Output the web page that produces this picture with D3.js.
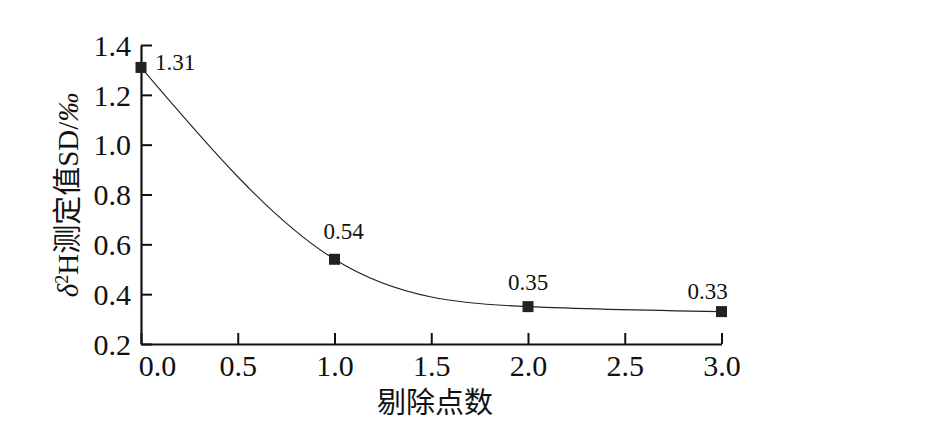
<!DOCTYPE html>
<html>
<head>
<meta charset="utf-8">
<script src="https://cdn.jsdelivr.net/npm/d3@7"></script>
<style>
  html, body { margin: 0; padding: 0; background: #fff; }
  svg { display: block; }
  text { font-family: "Liberation Serif", "DejaVu Serif", serif; fill: #111; }
  .cjk { font-family: "Liberation Serif", "Noto Sans CJK SC", serif; }
</style>
</head>
<body>
<svg id="chart" width="946" height="428"></svg>
<script>
// Data
const removedPoints = [0, 1, 2, 3];
const sdValues = [1.31, 0.54, 0.35, 0.33];
const valueLabels = ["1.31", "0.54", "0.35", "0.33"];
const xTicks = [0.0, 0.5, 1.0, 1.5, 2.0, 2.5, 3.0];
const yTicks = [0.2, 0.4, 0.6, 0.8, 1.0, 1.2, 1.4];
const xTitle = "剔除点数";

// Label placement (pixel offsets from each point)
const labelOffsets = [[14, 3, "start"], [9, -20, "middle"], [0, -17, "middle"], [-14, -13, "middle"]];

const svg = d3.select("#chart");
const x = d3.scaleLinear().domain([0, 3]).range([141, 721.5]);
const y = d3.scaleLinear().domain([0.2, 1.4]).range([344, 45]);

const ink = "#111";
const serif = '"Liberation Serif", "DejaVu Serif", serif';

// axes
const xAxis = svg.append("g").attr("transform", `translate(0,${y(0.2)})`)
  .call(d3.axisBottom(x).tickValues(xTicks).tickFormat(d3.format(".1f")).tickSizeInner(-11).tickSizeOuter(0).tickPadding(0));
xAxis.attr("font-family", null).attr("font-size", null);
xAxis.select(".domain").attr("stroke", ink).attr("stroke-width", 2.2);
xAxis.selectAll(".tick line").attr("stroke", ink).attr("stroke-width", 2);
xAxis.selectAll(".tick text")
  .attr("y", 32).attr("dy", 0)
  .attr("fill", ink)
  .attr("dx", d => d === 0 ? 16 : 0)
  .style("font-family", serif).style("font-size", "30px");

const yAxis = svg.append("g").attr("transform", `translate(${x(0)},0)`)
  .call(d3.axisLeft(y).tickValues(yTicks).tickFormat(d3.format(".1f")).tickSizeInner(-11).tickSizeOuter(0).tickPadding(0));
yAxis.attr("font-family", null).attr("font-size", null);
yAxis.select(".domain").attr("stroke", ink).attr("stroke-width", 2.2);
yAxis.selectAll(".tick line").attr("stroke", ink).attr("stroke-width", 2);
yAxis.selectAll(".tick text")
  .attr("x", -10).attr("dy", "0.34em")
  .attr("fill", ink)
  .style("font-family", serif).style("font-size", "30px");

// curve
const pts = removedPoints.map((d, i) => [d, sdValues[i]]);
const line = d3.line().x(d => x(d[0])).y(d => y(d[1])).curve(d3.curveNatural);
svg.append("path").datum(pts).attr("d", line)
  .attr("fill", "none").attr("stroke", "#222").attr("stroke-width", 1.1);

// markers
const s = 11;
svg.selectAll("rect.pt").data(pts).enter().append("rect")
  .attr("class", "pt")
  .attr("x", d => x(d[0]) - s / 2).attr("y", d => y(d[1]) - s / 2)
  .attr("width", s).attr("height", s).attr("fill", "#222");

// value labels
svg.selectAll("text.val").data(pts).enter().append("text")
  .attr("class", "val")
  .attr("x", (d, i) => x(d[0]) + labelOffsets[i][0])
  .attr("y", (d, i) => y(d[1]) + labelOffsets[i][1])
  .attr("text-anchor", (d, i) => labelOffsets[i][2])
  .style("font-family", serif).style("font-size", "23px")
  .text((d, i) => valueLabels[i]);

// x title
svg.append("text").attr("class", "cjk")
  .attr("x", 435).attr("y", 413)
  .attr("text-anchor", "middle").attr("font-size", 29)
  .text(xTitle);

// y title
const yt = svg.append("text").attr("class", "cjk")
  .attr("transform", "translate(78,195) rotate(-90)")
  .attr("text-anchor", "middle").attr("font-size", 29);
yt.append("tspan").attr("font-style", "italic").text("δ");
yt.append("tspan").attr("font-size", 18).attr("dy", -10).text("2");
yt.append("tspan").attr("dy", 10).text("H测定值SD/");
yt.append("tspan").attr("font-style", "italic").text("‰");
</script>
</body>
</html>
